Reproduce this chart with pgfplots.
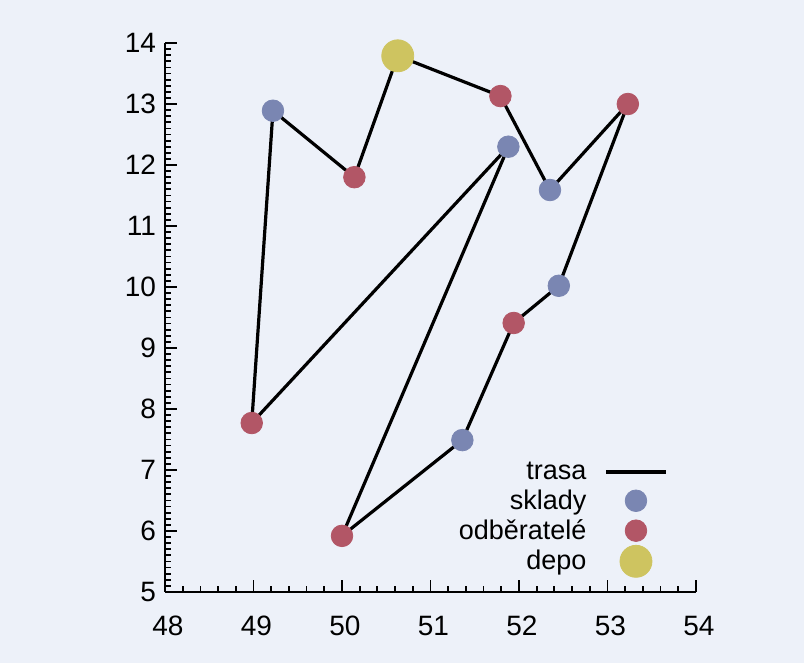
\documentclass[border=0pt]{standalone}
\usepackage{pgfplots}
\pgfplotsset{compat=1.18}
\usepackage{fontspec}
\setmainfont{Liberation Sans}
\definecolor{bgc}{RGB}{237,241,249}
\definecolor{skl}{RGB}{122,134,178}
\definecolor{odb}{RGB}{178,86,102}
\definecolor{dep}{RGB}{206,196,96}
\pgfplotsset{
  longline/.style={legend image code/.code={\draw[##1] (0cm,0cm) -- (1.05cm,0cm);}},
  midmark/.style={legend image code/.code={\draw[##1] plot coordinates {(0.525cm,0cm)};}},
}
\begin{document}
\begin{tikzpicture}
\path[use as bounding box] (0,0) rectangle (402pt,331.5pt);
\fill[bgc] (0,0) rectangle (402pt,331.5pt);
\begin{axis}[
  at={(82.5pt,35.5pt)}, anchor=south west,
  scale only axis, width=265.5pt, height=274.5pt,
  xmin=48, xmax=54, ymin=5, ymax=14,
  axis x line*=bottom, axis y line*=left,
  axis line style={-, line width=1.1pt, black},
  xtick={48,...,54}, ytick={5,...,14},
  minor x tick num=4, minor y tick num=9,
  tick align=inside,
  major tick length=6pt, minor tick length=3pt,
  every tick/.style={black, line width=0.9pt},
  /pgf/number format/assume math mode=true,
  tick label style={font=\fontsize{14}{16}\selectfont, text=black},
  xticklabel style={yshift=-8.5pt, xshift=1.5pt},
  yticklabel style={xshift=-1pt},
  clip=false,
  legend plot pos=right,
  legend cell align=right,
  legend style={draw=none, fill=none, at={(0.947,0.026)}, anchor=south east,
    font=\fontsize{13.5}{15}\selectfont, text=black, row sep=-0.4pt, column sep=7pt, inner sep=0pt},
]
\addplot[black, line width=1.6pt, longline] coordinates {
(50.63,13.79) (51.79,13.13) (52.35,11.59) (53.23,13.00) (52.45,10.02)
(51.94,9.41) (51.36,7.49) (50.00,5.92) (51.88,12.30) (48.98,7.77)
(49.22,12.89) (50.14,11.80) (50.63,13.79)};
\addlegendentry{trasa}
\addplot[only marks, mark=*, mark size=5.4pt, color=skl, mark options={draw=skl, fill=skl}, midmark] coordinates {
(51.88,12.30) (52.35,11.59) (52.45,10.02) (51.36,7.49) (49.22,12.89)};
\addlegendentry{sklady}
\addplot[only marks, mark=*, mark size=5.4pt, color=odb, mark options={draw=odb, fill=odb}, midmark] coordinates {
(51.79,13.13) (53.23,13.00) (51.94,9.41) (50.00,5.92) (48.98,7.77) (50.14,11.80)};
\addlegendentry{odběratelé}
\addplot[only marks, mark=*, mark size=8pt, color=dep, mark options={draw=dep, fill=dep}, midmark] coordinates {
(50.63,13.79)};
\addlegendentry{depo}
\end{axis}
\end{tikzpicture}
\end{document}
